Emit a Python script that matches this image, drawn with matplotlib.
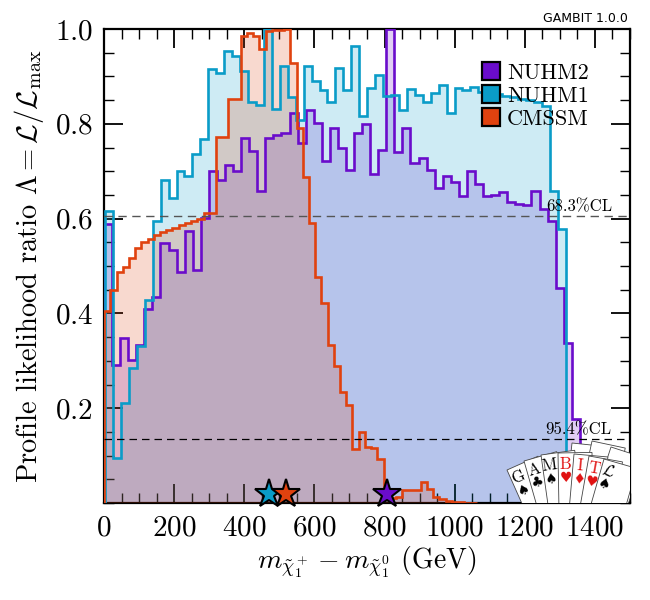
import numpy as np
import matplotlib
matplotlib.use('Agg')
import matplotlib.pyplot as plt
from matplotlib.patches import Polygon
from matplotlib.lines import Line2D

plt.rcParams['font.family'] = 'serif'
plt.rcParams['font.serif'] = ['cmr10']
plt.rcParams['mathtext.fontset'] = 'cm'
plt.rcParams['axes.unicode_minus'] = False
plt.rcParams['axes.formatter.use_mathtext'] = True

# ================== data ==================
# 1D profile likelihood ratio, 60-bin histograms (start of range, bin width in GeV)
CMSSM_START, CMSSM_WIDTH = 0.6, 17.7
NUHM1_START, NUHM1_WIDTH = 3.0, 22.65
NUHM2_START, NUHM2_WIDTH = 0.0, 23.0

cmssm = [0.405, 0.450, 0.488, 0.498, 0.516, 0.537, 0.550, 0.557, 0.565, 0.572,
         0.577, 0.581, 0.586, 0.590, 0.594, 0.600, 0.612, 0.612, 0.773, 0.773,
         0.853, 0.853, 0.985, 0.992, 0.985, 0.958, 0.995, 0.997, 0.998, 1.000,
         0.928, 0.791, 0.687, 0.590, 0.477, 0.421, 0.334, 0.289, 0.234, 0.207,
         0.113, 0.150, 0.119, 0.116, 0.093, 0.027, 0.010, 0.012, 0.027, 0.027,
         0.027, 0.044, 0.030, 0.012, 0.009, 0.004, 0.003, 0.002, 0.001, 0.001]

nuhm1 = [0.615, 0.094, 0.210, 0.284, 0.332, 0.429, 0.594, 0.682, 0.643, 0.700,
         0.689, 0.736, 0.768, 0.915, 0.908, 0.954, 0.942, 0.911, 0.846, 0.840,
         1.000, 0.831, 0.921, 0.856, 0.807, 0.921, 0.890, 0.872, 0.845, 0.918,
         0.872, 0.964, 0.816, 0.875, 0.902, 0.858, 0.861, 0.829, 0.873, 0.860,
         0.845, 0.866, 0.882, 0.822, 0.875, 0.871, 0.877, 0.868, 0.860, 0.863,
         0.858, 0.856, 0.853, 0.851, 0.846, 0.838, 0.658, 0.578]

nuhm2 = [0.588, 0.291, 0.348, 0.302, 0.333, 0.410, 0.435, 0.548, 0.534, 0.488,
         0.574, 0.492, 0.601, 0.701, 0.682, 0.714, 0.700, 0.770, 0.742, 0.659,
         0.771, 0.777, 0.780, 0.822, 0.759, 0.830, 0.801, 0.721, 0.791, 0.749,
         0.703, 0.780, 0.800, 0.695, 0.745, 1.000, 0.740, 0.791, 0.717, 0.728,
         0.702, 0.664, 0.689, 0.678, 0.648, 0.701, 0.673, 0.647, 0.650, 0.657,
         0.636, 0.631, 0.629, 0.658, 0.620, 0.594, 0.453, 0.337, 0.178]

models = ['NUHM2', 'NUHM1', 'CMSSM']
best_fit = [806, 470, 518]          # GeV, best-fit point of each scan
colors = ['#6a0ccb', '#0a9cc8', '#e0420f']

# ================== figure ==================
fig = plt.figure(figsize=(6.5, 6.0), dpi=100)
ax = fig.add_axes([104 / 650, 97 / 600, 526 / 650, 474 / 600])

series = [(nuhm2, NUHM2_START, NUHM2_WIDTH),
          (nuhm1, NUHM1_START, NUHM1_WIDTH),
          (cmssm, CMSSM_START, CMSSM_WIDTH)]

for i, (vals, start, width) in enumerate(series):
    edges = start + width * np.arange(len(vals) + 1)
    ax.stairs(vals, edges, fill=True, color=colors[i], alpha=0.2,
              lw=0, zorder=1 + i)
    ax.stairs(vals, edges, fill=False, color=colors[i], lw=1.9,
              baseline=0, zorder=4 + i)

# confidence level lines
cl_68 = np.exp(-0.5)
cl_95 = np.exp(-2.0)
ax.axhline(cl_68, color='#555555', lw=1.0, ls=(0, (6, 4)), zorder=8)
ax.axhline(cl_95, color='black', lw=0.9, ls=(0, (6, 4)), zorder=8)
ax.text(1262, cl_68 + 0.003, '68.3%CL', fontsize=12, ha='left', va='bottom', zorder=9)
ax.text(1258, cl_95 + 0.003, '95.4%CL', fontsize=12, ha='left', va='bottom', zorder=9)

# best-fit stars
for x, c in zip(best_fit, colors):
    ax.plot(x, 0.019, marker='*', ms=21, mfc=c, mec='black', mew=1.5,
            clip_on=False, zorder=12)

ax.set_xlim(0, 1500)
ax.set_ylim(0, 1.0)
ax.set_xticks(np.arange(0, 1401, 200))
ax.set_xticks(np.arange(0, 1501, 50), minor=True)
ax.set_yticks([0.2, 0.4, 0.6, 0.8, 1.0])
ax.set_yticks(np.arange(0, 1.001, 0.05), minor=True)
ax.tick_params(which='both', direction='in', top=True, right=True)
ax.tick_params(which='major', length=14, width=1.3, labelsize=21)
ax.tick_params(which='minor', length=7, width=1.0)
ax.tick_params(axis='x', which='major', pad=9)
ax.tick_params(axis='y', which='major', pad=8)
for sp in ax.spines.values():
    sp.set_linewidth(1.6)

ax.set_xlabel(r'$m_{\tilde{\chi}_1^+} - m_{\tilde{\chi}_1^0}$ (GeV)', fontsize=20, labelpad=2)
ax.set_ylabel(r'Profile likelihood ratio $\Lambda = \mathcal{L}/\mathcal{L}_{\rm max}$',
              fontsize=20.5, labelpad=6)

handles = [Line2D([], [], marker='s', ls='none', ms=13, mfc=c, mec='black', mew=1.6)
           for c in colors]
ax.legend(handles, models, loc='upper left', bbox_to_anchor=(0.69, 0.96),
          frameon=False, fontsize=16, handlelength=0.8, handletextpad=0.3,
          labelspacing=0.15, borderpad=0.2)

fig.text(628 / 650, 1 - 18 / 600, 'GAMBIT 1.0.0', family='DejaVu Sans',
         fontsize=9, ha='right', va='center')

# ================== GAMBIT card logo ==================
lax = fig.add_axes([500 / 650, 97 / 600, 130 / 650, 73 / 600])
lax.set_xlim(500, 630)
lax.set_ylim(503, 430)
lax.axis('off')

def card(x0, y0, tilt, letter=None, suit=None, red=False, w=34, h=90):
    t = np.deg2rad(tilt)
    u = np.array([np.cos(t), np.sin(t)])      # along the top edge
    d = np.array([-np.sin(t), np.cos(t)])     # down the card
    p0 = np.array([x0, y0])
    pts = [p0, p0 + w * u, p0 + w * u + h * d, p0 + h * d]
    lax.add_patch(Polygon(pts, closed=True, fc='white', ec='#444444', lw=0.6))
    col = '#e01010' if red else 'black'
    if letter:
        p = p0 + 7 * u + 11 * d
        lax.text(p[0], p[1], letter, fontsize=12, color=col, ha='center',
                 va='center', rotation=-tilt)
    if suit:
        p = p0 + 7 * u + 25 * d
        lax.text(p[0], p[1], suit, fontsize=10, color=col, ha='center',
                 va='center', rotation=-tilt, family='DejaVu Sans')

for x0, y0, tilt in [(572, 443, 6), (592, 441, 12), (611, 447, 18)]:
    card(x0, y0, tilt)

card_letters = ['G', 'A', 'M', 'B', 'I', 'T', r'$\mathcal{L}$']
card_suits = ['\u2660', '\u2663', '\u2660', '\u2665', '\u2666', '\u2665', '\u2660']
card_red = [False, False, False, True, True, True, False]
card_x = [507, 524, 541, 558, 574, 589, 604]
card_y = [470, 461, 455, 453, 454, 456, 459]
card_tilt = [-24, -16, -8, -1, 5, 10, 16]
for L, s, r, x0, y0, tl in zip(card_letters, card_suits, card_red, card_x, card_y, card_tilt):
    card(x0, y0, tl, L, s, r)

fig.savefig('out.png', dpi=100)
